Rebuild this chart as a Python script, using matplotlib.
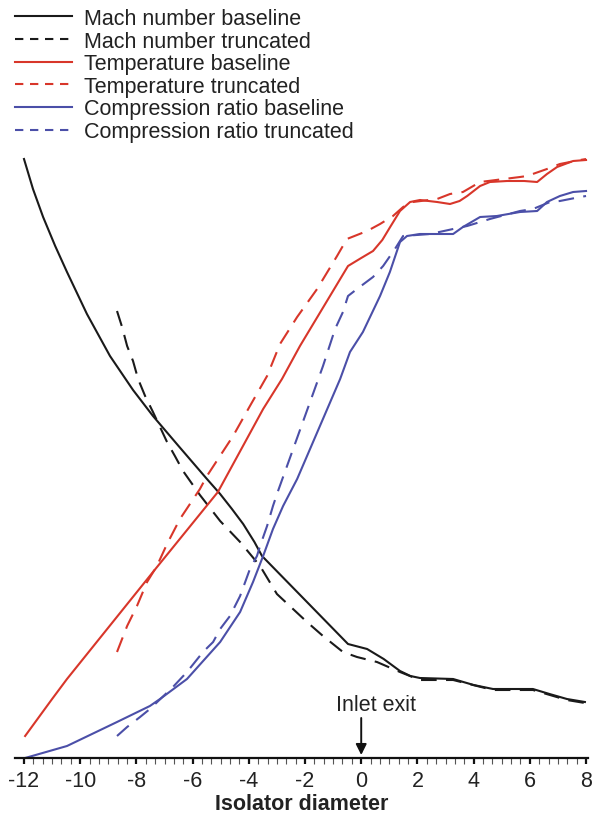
import numpy as np
import matplotlib
matplotlib.use("Agg")
import matplotlib.pyplot as plt
from matplotlib.ticker import MultipleLocator
from matplotlib.lines import Line2D

plt.rcParams['font.family'] = ['Liberation Sans', 'DejaVu Sans']

# Mach-Zahl, Basis und verkuerztes Modell (Hoehe in beliebigen Einheiten)
mach_base_x = [-12, -11.68, -11.32, -10.89, -10.47, -9.76, -8.94, -8.12, -7.41, -6.5, -5.49, -5.02,
               -4.6, -4.2, -3.8, -3.53, -2.0, -0.47, 0.21, 0.8, 1.38, 1.75, 2.09, 3.27, 4.0,
               4.69, 6.11, 6.7, 7.32, 7.96]
mach_base_y = [5.99, 5.69, 5.41, 5.12, 4.86, 4.44, 4.02, 3.68, 3.42, 3.12, 2.79, 2.64,
               2.49, 2.34, 2.16, 2.02, 1.58, 1.14, 1.09, 0.99, 0.87, 0.82, 0.80, 0.79, 0.73,
               0.69, 0.69, 0.64, 0.59, 0.56]
mach_trunc_x = [-8.69, -8.51, -8.33, -8.12, -7.94, -7.69, -7.41, -6.91, -6.63, -6.34, -5.74, -5.02,
                -4.31, -3.60, -3.00, -1.93, -1.36, -0.65, -0.15, 0.56, 1.38, 2.09, 3.27, 4.69,
                6.11, 7.32, 7.96]
mach_trunc_y = [4.47, 4.31, 4.12, 3.97, 3.79, 3.62, 3.46, 3.16, 3.02, 2.87, 2.63, 2.37,
                2.16, 1.92, 1.64, 1.36, 1.22, 1.06, 1.01, 0.96, 0.86, 0.78, 0.78, 0.68,
                0.68, 0.58, 0.55]

# Temperatur
temp_base_x = [-11.96, -11.0, -10.47, -7.41, -5.10, -3.49, -2.82, -2.18, -0.47, 0.0, 0.42, 0.75,
               1.03, 1.38, 1.74, 2.09, 2.70, 3.16, 3.50, 3.77, 4.23, 4.58, 5.19, 5.8, 6.26,
               6.61, 6.97, 7.54, 8.0]
temp_base_y = [0.22, 0.59, 0.79, 1.86, 2.66, 3.49, 3.79, 4.12, 4.92, 5.00, 5.07, 5.18,
               5.31, 5.47, 5.56, 5.58, 5.56, 5.54, 5.57, 5.62, 5.72, 5.76, 5.77, 5.77, 5.76,
               5.84, 5.91, 5.97, 5.98]
temp_trunc_x = [-8.69, -8.33, -7.98, -7.62, -7.27, -6.91, -6.45, -5.74, -5.49, -4.56, -3.96, -3.35,
                -2.89, -2.28, -1.57, -0.86, -0.51, 0.21, 0.67, 1.13, 1.49, 1.84, 2.70, 3.16,
                3.62, 4.23, 5.65, 5.90, 6.61, 7.07, 7.79, 8.0]
temp_trunc_y = [1.06, 1.32, 1.52, 1.76, 1.92, 2.14, 2.39, 2.69, 2.82, 3.22, 3.52, 3.82,
                4.14, 4.41, 4.69, 5.02, 5.19, 5.27, 5.34, 5.42, 5.51, 5.56, 5.59, 5.64,
                5.66, 5.76, 5.81, 5.82, 5.89, 5.94, 5.98, 5.99]

# Verdichtungsverhaeltnis
comp_base_x = [-11.96, -10.47, -8.69, -7.52, -7.16, -6.20, -5.02, -4.31, -3.85, -3.49, -3.14, -2.78,
               -2.28, -0.75, -0.40, 0.06, 0.67, 1.02, 1.38, 1.63, 2.09, 2.70, 3.27, 3.62,
               4.23, 4.83, 5.65, 6.26, 6.61, 7.07, 7.54, 8.0]
comp_base_y = [0.0, 0.12, 0.36, 0.52, 0.59, 0.79, 1.16, 1.46, 1.76, 2.02, 2.29, 2.52,
               2.79, 3.79, 4.06, 4.26, 4.62, 4.86, 5.16, 5.22, 5.24, 5.24, 5.24, 5.31,
               5.41, 5.42, 5.46, 5.47, 5.56, 5.62, 5.66, 5.67]
comp_trunc_x = [-8.69, -8.33, -7.87, -7.52, -6.70, -6.20, -5.63, -5.27, -5.02, -4.67, -4.31, -3.96,
                -3.71, -3.60, -3.35, -3.14, -2.96, -1.36, -0.93, -0.65, -0.47, -0.15, 0.42, 0.78,
                1.20, 1.49, 2.45, 3.27, 3.77, 4.58, 5.65, 6.11, 6.72, 7.07, 7.79, 8.0]
comp_trunc_y = [0.22, 0.31, 0.41, 0.49, 0.71, 0.86, 1.06, 1.16, 1.29, 1.42, 1.62, 1.89,
                2.02, 2.12, 2.32, 2.52, 2.67, 3.92, 4.29, 4.46, 4.62, 4.69, 4.81, 4.92,
                5.09, 5.22, 5.24, 5.29, 5.32, 5.39, 5.47, 5.49, 5.56, 5.57, 5.61, 5.62]

x_ticks = [-12, -10, -8, -6, -4, -2, 0, 2, 4, 6, 8]

legende = ['Mach number baseline', 'Mach number truncated', 'Temperature baseline',
           'Temperature truncated', 'Compression ratio baseline', 'Compression ratio truncated']

schwarz = '#1a1a1a'
rot = '#d8362a'
blau = '#4b4fa8'
lw = 1.5
strich = (7.5, 4.5)

fig = plt.figure(figsize=(5.92, 8.2), dpi=100)
ax = fig.add_axes([15 / 592, 61 / 820, 573 / 592, 609 / 820])

ax.plot(mach_base_x, mach_base_y, color=schwarz, lw=lw)
ax.plot(mach_trunc_x, mach_trunc_y, color=schwarz, lw=lw, dashes=strich)
ax.plot(temp_base_x, temp_base_y, color=rot, lw=lw)
ax.plot(temp_trunc_x, temp_trunc_y, color=rot, lw=lw, dashes=strich)
ax.plot(comp_base_x, comp_base_y, color=blau, lw=lw)
ax.plot(comp_trunc_x, comp_trunc_y, color=blau, lw=lw, dashes=strich)

ax.set_xlim(-12.32, 8.07)
ax.set_ylim(0, 6.09)

for s in ['top', 'right', 'left']:
    ax.spines[s].set_visible(False)
ax.spines['bottom'].set_linewidth(1.6)
ax.spines['bottom'].set_color('#111111')
ax.set_yticks([])
ax.set_xticks(x_ticks)
ax.set_xticklabels([str(t) for t in x_ticks])
ax.xaxis.set_minor_locator(MultipleLocator(2 / 6))
ax.tick_params(axis='x', which='major', length=4, width=1.6, color='#111111',
               labelsize=15.5, labelcolor='#222222', pad=4.5)
ax.tick_params(axis='x', which='minor', length=4, width=0.8, color='#555555')
ax.set_xlabel('Isolator diameter', fontsize=15.5, fontweight='bold', color='#222222', labelpad=1.5)

# Markierung Einlassende
ax.text(0.53, (759 - 706) / 100, 'Inlet exit', ha='center', va='center', fontsize=15.5, color='#222222')
ax.annotate('', xy=(0, 0.03), xytext=(0, (759 - 719) / 100),
            arrowprops=dict(arrowstyle='-|>', lw=1.4, color='#111111', mutation_scale=16,
                            shrinkA=0, shrinkB=0))

# Legende mit kuerzeren Strichen
griffe = []
for farbe in [schwarz, rot, blau]:
    griffe.append(Line2D([], [], color=farbe, lw=lw))
    griffe.append(Line2D([], [], color=farbe, lw=lw, dashes=(4, 3.2)))
fig.legend(griffe, legende, loc='upper left', bbox_to_anchor=(15 / 592, 1 - 9 / 820), frameon=False,
           fontsize=15.5, handlelength=2.65, handletextpad=0.55, labelspacing=0.075,
           borderpad=0, borderaxespad=0, labelcolor='#222222')

fig.savefig('out.png', dpi=100)
